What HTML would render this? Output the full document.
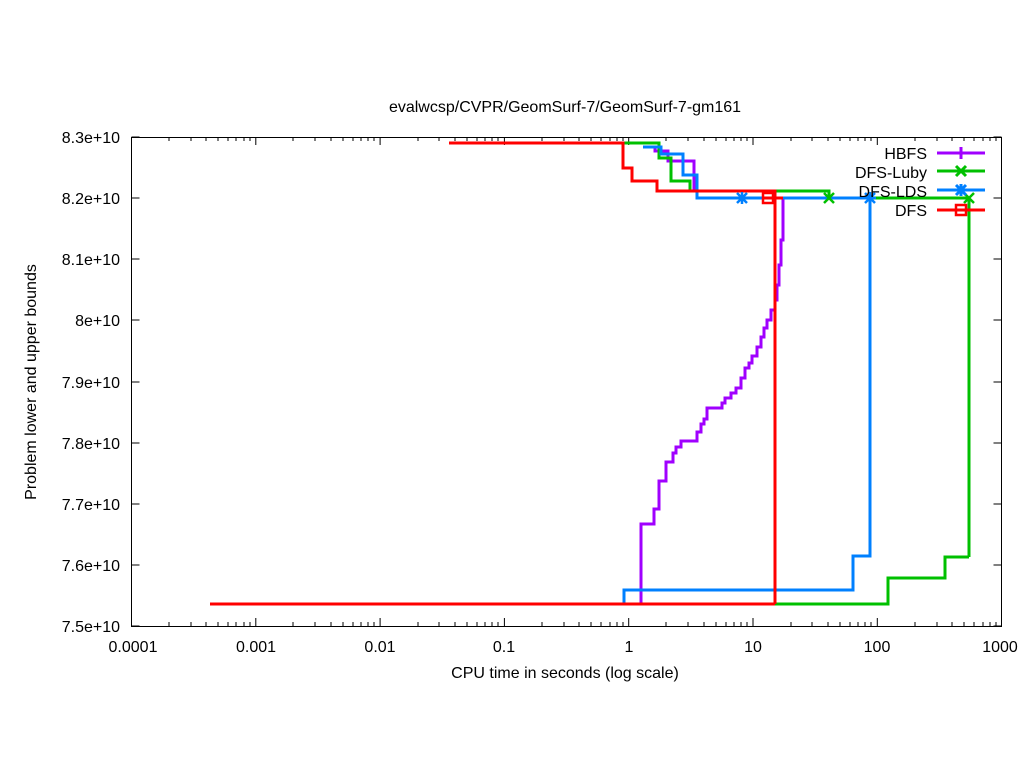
<!DOCTYPE html><html><head><style>body{margin:0;background:#fff}svg{display:block}text{font-family:"Liberation Sans",sans-serif;font-size:16px;fill:#000}</style></head><body>
<svg width="1024" height="768" viewBox="0 0 1024 768">
<g stroke="#000" stroke-width="1" fill="none">
<rect x="131.5" y="137.5" width="870" height="489"/>
<path d="M131.5 626h8M1001.5 626h-8M131.5 565h8M1001.5 565h-8M131.5 504h8M1001.5 504h-8M131.5 443h8M1001.5 443h-8M131.5 382h8M1001.5 382h-8M131.5 320h8M1001.5 320h-8M131.5 259h8M1001.5 259h-8M131.5 198h8M1001.5 198h-8M131.5 137h8M1001.5 137h-8"/>
<path d="M255.8 626v-8M380.1 626v-8M504.4 626v-8M628.7 626v-8M753 626v-8M877.3 626v-8M255.8 137v8M380.1 137v8M504.4 137v8M628.7 137v8M753 137v8M877.3 137v8
M169 626v-4M191 626v-4M206 626v-4M218 626v-4M228 626v-4M236 626v-4M244 626v-4M250 626v-4
M293 626v-4M315 626v-4M331 626v-4M343 626v-4M353 626v-4M361 626v-4M368 626v-4M374 626v-4
M418 626v-4M439 626v-4M455 626v-4M467 626v-4M477 626v-4M485 626v-4M492 626v-4M498 626v-4
M542 626v-4M564 626v-4M579 626v-4M591 626v-4M601 626v-4M610 626v-4M617 626v-4M623 626v-4
M666 626v-4M688 626v-4M704 626v-4M716 626v-4M726 626v-4M734 626v-4M741 626v-4M747 626v-4
M791 626v-4M812 626v-4M828 626v-4M840 626v-4M850 626v-4M858 626v-4M865 626v-4M871 626v-4
M915 626v-4M937 626v-4M952 626v-4M964 626v-4M974 626v-4M983 626v-4M990 626v-4M996 626v-4
M169 137v4M191 137v4M206 137v4M218 137v4M228 137v4M236 137v4M244 137v4M250 137v4
M293 137v4M315 137v4M331 137v4M343 137v4M353 137v4M361 137v4M368 137v4M374 137v4
M418 137v4M439 137v4M455 137v4M467 137v4M477 137v4M485 137v4M492 137v4M498 137v4
M542 137v4M564 137v4M579 137v4M591 137v4M601 137v4M610 137v4M617 137v4M623 137v4
M666 137v4M688 137v4M704 137v4M716 137v4M726 137v4M734 137v4M741 137v4M747 137v4
M791 137v4M812 137v4M828 137v4M840 137v4M850 137v4M858 137v4M865 137v4M871 137v4
M915 137v4M937 137v4M952 137v4M964 137v4M974 137v4M983 137v4M990 137v4M996 137v4"/>
</g>
<g text-anchor="end">
<text x="120" y="632">7.5e+10</text><text x="120" y="571">7.6e+10</text><text x="120" y="510">7.7e+10</text><text x="120" y="449">7.8e+10</text><text x="120" y="388">7.9e+10</text><text x="120" y="326">8e+10</text><text x="120" y="265">8.1e+10</text><text x="120" y="204">8.2e+10</text><text x="120" y="143">8.3e+10</text>
</g>
<g text-anchor="middle">
<text x="133" y="652">0.0001</text><text x="256" y="652">0.001</text><text x="380" y="652">0.01</text><text x="504" y="652">0.1</text><text x="629" y="652">1</text><text x="753" y="652">10</text><text x="877" y="652">100</text><text x="1000" y="652">1000</text>
<text x="565" y="112">evalwcsp/CVPR/GeomSurf-7/GeomSurf-7-gm161</text>
<text x="565" y="678">CPU time in seconds (log scale)</text>
<text transform="translate(36,382) rotate(-90)">Problem lower and upper bounds</text>
</g>
<g fill="none" stroke-width="3">
<path stroke="#a000ff" d="M641 604V524H654V509H659V481H666V462H673V453H676V447H681V441H697V432H701V424H704V419H707V408H722V403H725V398H731V393H736V388H741V378H745V368H749V363H752V356H757V347H761V337H764V328H767V320H771V310H775V300H777V285H779V265H781V240H783V198M643 147H655V151H668V161H694V191"/>
<path stroke="#00c000" d="M623 143H659V158H671V181H690V191H829V198M870 198H969V557M775 604H888V578H945V557H969"/>
<path stroke="#0080ff" d="M624 604V590H853V556H870V198M643 147H661V154H683V175H697V198H870"/>
<path stroke="#ff0000" d="M449 143H623V168H632V181H657V191H775V604M210 604H775M763 198H783"/>
</g>
<g fill="none" stroke-width="2.5">
<path stroke="#00c000" d="M824 193l10 10M834 193l-10 10M964 193l10 10M974 193l-10 10"/>
<path stroke="#0080ff" d="M736 198h12M742 192v12M737 193l10 10M747 193l-10 10M864 198h12M870 192v12M865 193l10 10M875 193l-10 10"/>
<rect x="763" y="193" width="10" height="10" stroke="#ff0000"/>
</g>
<g text-anchor="end"><text x="927" y="159">HBFS</text><text x="927" y="178">DFS-Luby</text><text x="927" y="197">DFS-LDS</text><text x="927" y="216">DFS</text></g>
<g fill="none" stroke-width="3">
<path stroke="#a000ff" d="M937 153H985M961 147v12"/>
<path stroke="#00c000" d="M937 171H985M956 166l10 10M966 166l-10 10"/>
<path stroke="#0080ff" d="M937 190H985M955 190h12M961 184v12M956 185l10 10M966 185l-10 10"/>
<path stroke="#ff0000" d="M937 210H985"/><rect x="956" y="205" width="10" height="10" stroke="#ff0000" stroke-width="2.5" fill="none"/>
</g>
</svg></body></html>
